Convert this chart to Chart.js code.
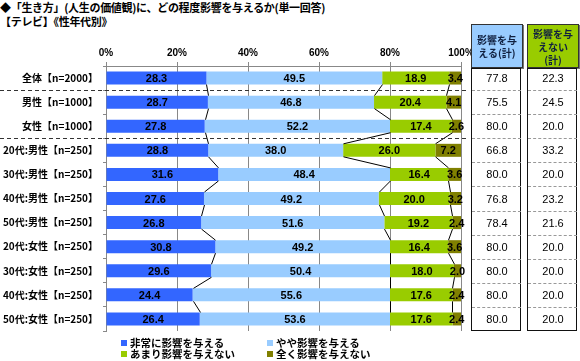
<!DOCTYPE html>
<html><head><meta charset="utf-8">
<script src="https://cdn.jsdelivr.net/npm/chart.js@4.4.1/dist/chart.umd.min.js"></script>
<style>
body{margin:0;background:#fff;width:580px;height:361px;overflow:hidden;position:relative;font-family:"Noto Sans CJK JP",sans-serif;color:#000;}
#c{position:absolute;left:0;top:0;}
.t{position:absolute;left:0;font-weight:bold;font-size:11px;white-space:nowrap;line-height:13px;letter-spacing:-0.3px;}
.hd{position:absolute;top:24px;height:42px;width:50px;border:1px solid #333;box-shadow:1px 1px 0 #777;font-weight:bold;font-size:10px;line-height:13px;text-align:center;display:flex;align-items:center;justify-content:center;color:#102040;}
.bd{position:absolute;top:68px;width:50px;height:263px;border:1.5px solid #111;box-sizing:border-box;}
.cell{position:absolute;font-family:"Liberation Sans",Arial,sans-serif;font-size:11px;text-align:center;width:50px;line-height:12px;}
.sep{position:absolute;height:0;border-top:1px dashed #999;}
.lg{position:absolute;font-weight:bold;font-size:10.5px;white-space:nowrap;line-height:12px;}
.lg i{display:inline-block;width:6px;height:6px;margin-right:3px;vertical-align:1px;}
</style></head>
<body>
<div class="t" style="top:1px">◆「生き方」(人生の価値観)に、どの程度影響を与えるか(単一回答)</div>
<div class="t" style="top:15px">【テレビ】《性年代別》</div>
<canvas id="c" width="580" height="361"></canvas>
<div id="tbl"></div>
<div id="leg"></div>
<script>
const categories = ["全体【n=2000】","男性【n=1000】","女性【n=1000】","20代:男性【n=250】","30代:男性【n=250】","40代:男性【n=250】","50代:男性【n=250】","20代:女性【n=250】","30代:女性【n=250】","40代:女性【n=250】","50代:女性【n=250】"];
const seriesNames = ["非常に影響を与える","やや影響を与える","あまり影響を与えない","全く影響を与えない"];
const veryMuch   = [28.3,28.7,27.8,28.8,31.6,27.6,26.8,30.8,29.6,24.4,26.4];
const somewhat   = [49.5,46.8,52.2,38.0,48.4,49.2,51.6,49.2,50.4,55.6,53.6];
const notMuch    = [18.9,20.4,17.4,26.0,16.4,20.0,19.2,16.4,18.0,17.6,17.6];
const notAtAll   = [3.4,4.1,2.6,7.2,3.6,3.2,2.4,3.6,2.0,2.4,2.4];
const affectTotal   = ["77.8","75.5","80.0","66.8","80.0","76.8","78.4","80.0","80.0","80.0","80.0"];
const noAffectTotal = ["22.3","24.5","20.0","33.2","20.0","23.2","21.6","20.0","20.0","20.0","20.0"];
const xTicks = [0,20,40,60,80,100];
const tableHeaders = ["影響を与<br>える(計)","影響を与<br>えない<br>(計)"];
const colors = ["#3366FF","#99CCFF","#99CC00","#808000"];
const headerColors = ["#99CCFF","#99CC00"];
const separatorsAfter = [0,2];

const extras = {
  id:'extras',
  afterDatasetsDraw(chart){
    const ctx = chart.ctx;
    const metas = chart.data.datasets.map((d,i)=>chart.getDatasetMeta(i));
    ctx.save();
    ctx.strokeStyle = '#000'; ctx.lineWidth = 1;
    for(let k=0;k<3;k++){
      const els = metas[k].data;
      for(let i=0;i<els.length-1;i++){
        const a = els[i], b = els[i+1];
        ctx.beginPath();
        ctx.moveTo(Math.round(a.x)+0.5, a.y + a.height/2);
        ctx.lineTo(Math.round(b.x)+0.5, b.y - b.height/2);
        ctx.stroke();
      }
    }
    const ys = chart.scales.y;
    ctx.strokeStyle = '#333'; ctx.setLineDash([4,3]);
    separatorsAfter.forEach(i=>{
      const y = Math.round((ys.getPixelForValue(i)+ys.getPixelForValue(i+1))/2)+0.5;
      ctx.beginPath(); ctx.moveTo(0,y); ctx.lineTo(467,y); ctx.stroke();
    });
    ctx.setLineDash([]);
    ctx.fillStyle = '#000';
    ctx.font = 'bold 11px "Liberation Sans", Arial, sans-serif';
    ctx.textAlign = 'center'; ctx.textBaseline = 'middle';
    chart.data.datasets.forEach((ds,di)=>{
      metas[di].data.forEach((bar,i)=>{
        ctx.fillText(ds.data[i].toFixed(1),(bar.x+bar.base)/2,bar.y+1);
      });
    });
    ctx.restore();
  }
};

const chart = new Chart(document.getElementById('c'),{
  type:'bar',
  data:{
    labels:categories,
    datasets:[veryMuch,somewhat,notMuch,notAtAll].map((d,i)=>({
      label:seriesNames[i], data:d, backgroundColor:colors[i], borderWidth:0,
      barPercentage:0.54, categoryPercentage:1
    }))
  },
  options:{
    indexAxis:'y', responsive:false, animation:false, devicePixelRatio:1,
    layout:{padding:{left:0,right:119,top:0,bottom:30}},
    plugins:{legend:{display:false},tooltip:{enabled:false}},
    scales:{
      x:{position:'top',stacked:true,min:0,max:100,
        afterBuildTicks(s){ s.ticks = xTicks.map(v=>({value:v})); },
        afterFit(s){ s.height = 66; },
        ticks:{callback:v=>v+'%',color:'#000',font:{family:'"Liberation Sans", Arial, sans-serif',size:10,weight:'bold'},padding:3,maxRotation:0},
        grid:{color:'#888',tickLength:4,lineWidth:1},
        border:{color:'#888'}
      },
      y:{stacked:true,
        afterFit(s){ s.width = 106; },
        ticks:{color:'#000',font:{family:'"Noto Sans CJK JP", sans-serif',size:10,weight:'bold'},padding:5},
        grid:{offset:true,drawOnChartArea:false,tickLength:3,color:'#888'},
        border:{color:'#888'}
      }
    }
  },
  plugins:[extras]
});

const ys = chart.scales.y;
const tbl = document.getElementById('tbl');
const colX = [471,527];
[affectTotal,noAffectTotal].forEach((vals,c)=>{
  const h = document.createElement('div');
  h.className='hd'; h.style.left=colX[c]+'px'; h.style.background=headerColors[c];
  h.innerHTML = '<div>'+tableHeaders[c]+'</div>';
  tbl.appendChild(h);
  const b = document.createElement('div');
  b.className='bd'; b.style.left=colX[c]+'px';
  tbl.appendChild(b);
  vals.forEach((v,i)=>{
    const y = ys.getPixelForValue(i);
    const d = document.createElement('div');
    d.className='cell'; d.style.left=(colX[c]+1)+'px'; d.style.top=(y-6)+'px';
    d.textContent=v; tbl.appendChild(d);
    if(i<vals.length-1){
      const s=document.createElement('div');
      s.className='sep'; s.style.left=(colX[c]+1)+'px'; s.style.width='49px';
      s.style.top=Math.round((y+ys.getPixelForValue(i+1))/2)+'px';
      tbl.appendChild(s);
    }
  });
});
const leg = document.getElementById('leg');
const legPos = [[121,337],[267,337],[121,348],[267,348]];
seriesNames.forEach((n,i)=>{
  const d=document.createElement('div');
  d.className='lg'; d.style.left=legPos[i][0]+'px'; d.style.top=legPos[i][1]+'px';
  d.innerHTML='<i style="background:'+colors[i]+'"></i>'+n;
  leg.appendChild(d);
});
</script>
</body></html>
